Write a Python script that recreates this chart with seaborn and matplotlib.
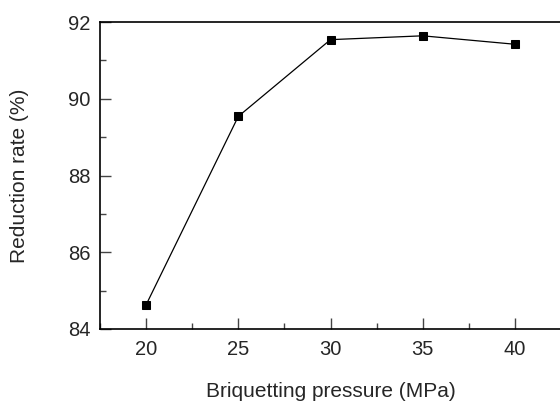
import matplotlib
matplotlib.use("Agg")
import matplotlib.pyplot as plt
import seaborn as sns
import pandas as pd
from matplotlib.ticker import MultipleLocator

pressure = [20, 25, 30, 35, 40]
reduction = [84.63, 89.54, 91.54, 91.64, 91.42]
x_ticks = [20, 25, 30, 35, 40]
y_ticks = [84, 86, 88, 90, 92]

sns.set_style("white")
plt.rcParams['font.family'] = ['Liberation Sans', 'DejaVu Sans']

df = pd.DataFrame({"p": pressure, "r": reduction})

fig = plt.figure(figsize=(5.6, 4.01), dpi=100)
ax = fig.add_axes([100/560, 1 - 329/401, (561 - 100)/560, (329 - 22)/401])

sns.lineplot(data=df, x="p", y="r", ax=ax, color="black", linewidth=0.9,
             marker="s", markersize=6, markeredgecolor="black",
             markerfacecolor="black")

ax.set_xlim(17.5, 42.5)
ax.set_ylim(84, 92)
ax.set_xticks(x_ticks)
ax.set_yticks(y_ticks)
ax.xaxis.set_minor_locator(MultipleLocator(2.5))
ax.yaxis.set_minor_locator(MultipleLocator(1))
ax.tick_params(which="major", direction="in", length=8, width=1, color="#444444",
               labelsize=14.5, top=False, right=False, left=True, bottom=True)
ax.tick_params(axis="y", which="major", pad=7)
ax.tick_params(axis="x", which="major", pad=8)
ax.tick_params(which="minor", direction="in", length=4.5, width=1, color="#444444",
               top=False, right=False, left=True, bottom=True)

for s in ["left", "bottom", "top"]:
    ax.spines[s].set_color("black")
    ax.spines[s].set_linewidth(1.2)
ax.spines["right"].set_visible(False)

ax.set_xlabel("Briquetting pressure (MPa)", fontsize=15, va="baseline")
ax.set_ylabel("Reduction rate (%)", fontsize=15, va="center")
ax.xaxis.set_label_coords(0.5, (329 - 397) / 307)
ax.yaxis.set_label_coords((20 - 100) / 461, 0.5)

fig.savefig("out.png", dpi=100)
